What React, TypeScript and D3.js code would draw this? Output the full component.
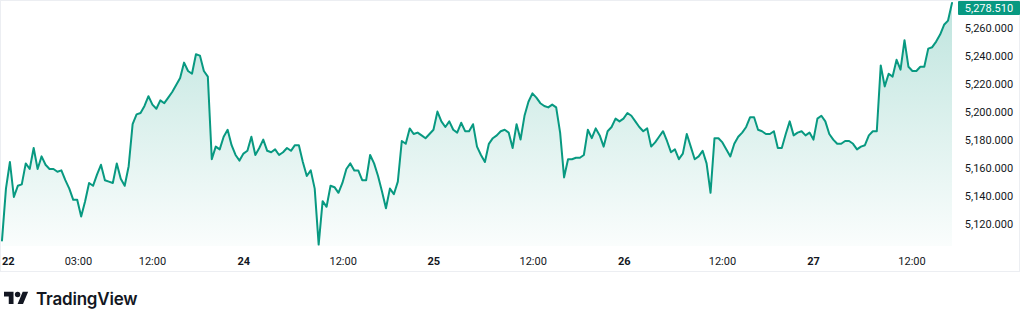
import React from 'react';
import * as d3 from 'd3';

// 30-minute closes, one array per trading session
const session22 = [5109, 5146, 5165, 5140, 5148, 5149, 5164, 5160, 5175, 5160, 5169, 5163, 5160, 5160, 5158, 5159, 5152, 5146, 5138, 5138, 5126, 5137, 5150, 5148, 5156, 5163, 5152, 5151, 5150, 5164, 5153, 5148, 5162, 5192, 5199, 5200, 5205, 5212, 5206, 5203, 5209, 5207, 5211, 5215, 5220, 5225, 5236, 5230, 5228, 5242, 5241, 5230, 5226, 5167, 5176, 5174, 5183, 5188, 5177, 5170, 5166, 5171];
const session24 = [5173, 5183, 5170, 5175, 5181, 5173, 5172, 5174, 5170, 5172, 5175, 5173, 5177, 5177, 5165, 5155, 5159, 5146, 5106, 5137, 5133, 5148, 5147, 5143, 5150, 5160, 5164, 5159, 5159, 5152, 5152, 5170, 5164, 5155, 5144, 5132, 5146, 5142, 5151, 5180, 5178, 5189, 5185, 5186, 5184, 5182, 5185, 5188];
const session25 = [5201, 5194, 5190, 5194, 5188, 5186, 5193, 5187, 5187, 5192, 5176, 5170, 5165, 5178, 5182, 5184, 5187, 5188, 5186, 5175, 5192, 5181, 5198, 5208, 5214, 5211, 5207, 5205, 5204, 5206, 5204, 5186, 5154, 5167, 5167, 5168, 5168, 5170, 5188, 5182, 5189, 5184, 5176, 5187, 5190, 5196, 5194, 5196];
const session26 = [5200, 5198, 5194, 5190, 5187, 5189, 5176, 5179, 5183, 5187, 5180, 5172, 5174, 5167, 5171, 5185, 5176, 5167, 5169, 5173, 5164, 5143, 5182, 5182, 5179, 5174, 5169, 5178, 5183, 5186, 5190, 5197, 5197, 5188, 5187, 5185, 5185, 5187, 5175, 5175, 5185, 5194, 5184, 5186, 5187, 5184, 5186, 5181];
const session27 = [5196, 5198, 5194, 5185, 5181, 5178, 5178, 5180, 5180, 5178, 5174, 5176, 5177, 5184, 5187, 5187, 5234, 5219, 5228, 5226, 5238, 5231, 5252, 5233, 5230, 5230, 5233, 5233, 5246, 5247, 5251, 5256, 5263, 5266, 5278.51];

const yTicks = [5120, 5140, 5160, 5180, 5200, 5220, 5240, 5260];
const xTickIndex = [1.6, 19.3, 38.0, 61.1, 86.2, 109.1, 134.2, 157.2, 182.0, 205.0, 229.9];
const xTickLabels = ['22', '03:00', '12:00', '24', '12:00', '25', '12:00', '26', '12:00', '27', '12:00'];
const dayLabels = ['22', '24', '25', '26', '27'];

const values = [...session22, ...session24, ...session25, ...session26, ...session27];

const TEAL = '#089981';
const TEXT = '#131722';
const FONT = 'Roboto, "Noto Sans", sans-serif';

export default function App() {
  const W = 1024;
  const H = 321;
  const plotLeft = 2;
  const plotRight = 952;
  const plotBottom = 246;

  const x = d3.scaleLinear().domain([0, values.length - 1]).range([plotLeft, plotRight]);
  const y = d3.scaleLinear().domain([5105, 5280.71]).range([plotBottom, 0]);

  const line = d3.line<number>().x((_, i) => x(i)).y((d) => y(d));
  const area = d3.area<number>().x((_, i) => x(i)).y0(plotBottom).y1((d) => y(d));
  const fmt = d3.format(',.3f');

  const last = values[values.length - 1];
  const labelY = Math.max(y(last), 8);

  return (
    <svg
      width={W}
      height={H}
      viewBox={`0 0 ${W} ${H}`}
      style={{ position: 'absolute', left: 0, top: 0, background: '#ffffff' }}
      fontFamily={FONT}
    >
      <defs>
        <linearGradient id="areaGrad" gradientUnits="userSpaceOnUse" x1="0" y1={y(last)} x2="0" y2={plotBottom}>
          <stop offset="0" stopColor={TEAL} stopOpacity={0.26} />
          <stop offset="1" stopColor={TEAL} stopOpacity={0.02} />
        </linearGradient>
      </defs>

      <rect x={0.5} y={0.5} width={1019} height={271} fill="#ffffff" stroke="#eceef2" strokeWidth={1} />

      <path d={area(values) ?? ''} fill="url(#areaGrad)" />
      <path d={line(values) ?? ''} fill="none" stroke={TEAL} strokeWidth={2} strokeLinejoin="round" strokeLinecap="round" />

      {yTicks.map((t) => (
        <text key={t} x={989} y={y(t)} fontSize={11} fill={TEXT} textAnchor="middle" dominantBaseline="central">
          {fmt(t)}
        </text>
      ))}

      <rect x={958} y={labelY - 7} width={62} height={14} fill={TEAL} rx={1} />
      <text x={989} y={labelY} fontSize={11} fill="#ffffff" textAnchor="middle" dominantBaseline="central">
        {fmt(last)}
      </text>

      {xTickIndex.map((t, i) => (
        <text
          key={i}
          x={x(t)}
          y={261}
          fontSize={11}
          fill={TEXT}
          textAnchor="middle"
          dominantBaseline="central"
          fontWeight={dayLabels.includes(xTickLabels[i]) ? 700 : 400}
        >
          {xTickLabels[i]}
        </text>
      ))}

      <g transform="translate(4,289) scale(0.68)" fill={TEXT}>
        <path d="M14 22H7V11H0V4h14v18zM28 22h-8l7.5-18h8L28 22z" />
        <circle cx={20} cy={8} r={4} />
      </g>
      <text x={36} y={305} fontSize={17} letterSpacing={-0.2} fontWeight={600} fill={TEXT} fontFamily="Inter, Roboto, sans-serif">
        TradingView
      </text>
    </svg>
  );
}
